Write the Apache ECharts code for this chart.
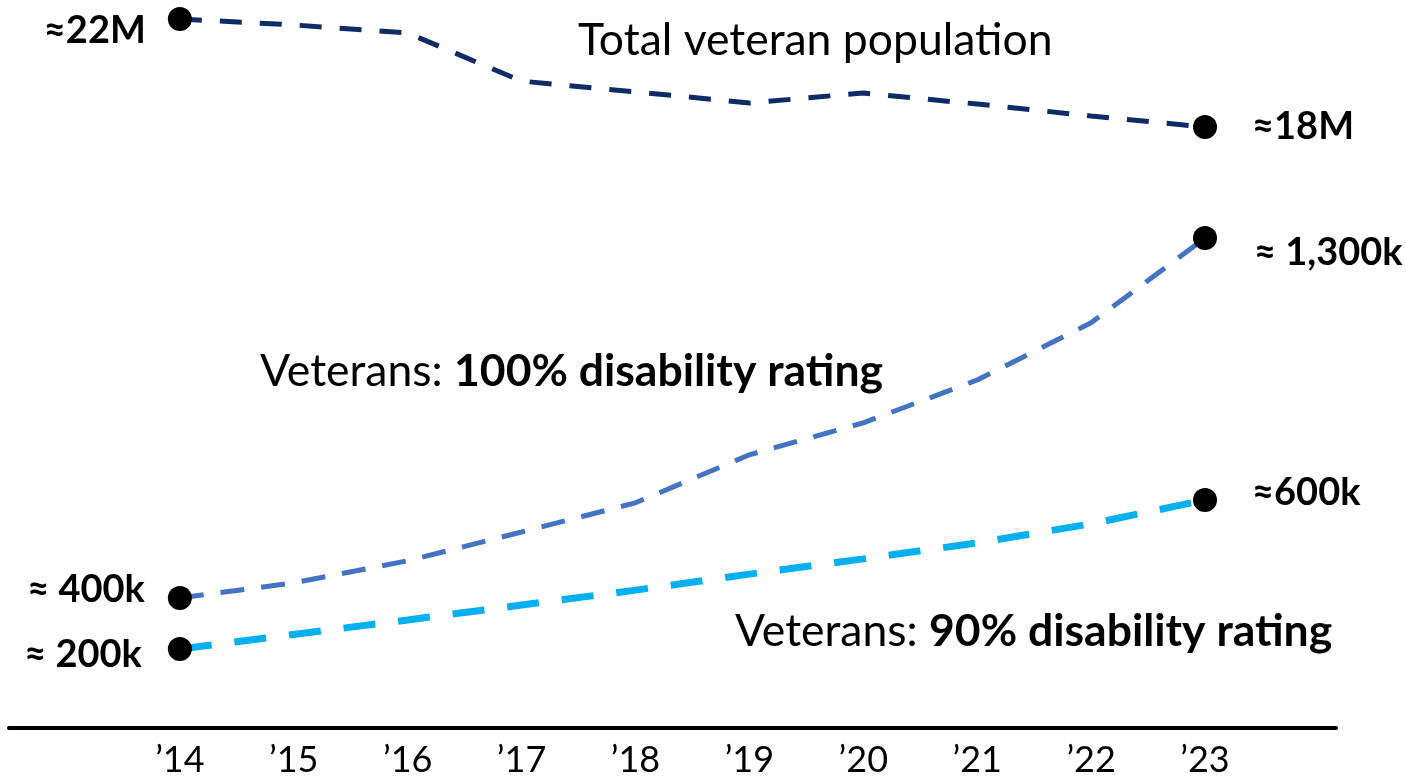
<!DOCTYPE html>
<html><head><meta charset="utf-8">
<script src="https://cdn.jsdelivr.net/npm/echarts@6/dist/echarts.min.js"></script>
<style>html,body{margin:0;padding:0;background:#fff}#c{width:1406px;height:779px}</style>
</head><body><div id="c"></div>
<script>
// ---- data ----
const years = [2014, 2015, 2016, 2017, 2018, 2019, 2020, 2021, 2022, 2023];
const totalPopulationM = [22.00, 21.78, 21.48, 19.70, 19.30, 18.89, 19.26, 18.85, 18.41, 18.00];
const rating100k = [400, 438, 493, 565, 638, 758, 838, 945, 1088, 1300];
const rating90k  = [200, 239, 278, 318, 358, 401, 442, 485, 536, 600];
const totalEndLabels = ['≈22M', '≈18M'];
const r100EndLabels = ['≈ 400k', '≈ 1,300k'];
const r90EndLabels = ['≈ 200k', '≈600k'];
const titleTotal = 'Total veteran population';
const titleR100 = ['Veterans: ', '100% disability rating'];
const titleR90 = ['Veterans: ', '90% disability rating'];

const FONT = 'Lato, "Open Sans", sans-serif';

function buildData(vals, labels, leftLab, rightLab) {
  return vals.map((v, i) => {
    const item = { value: [years[i], v] };
    const first = i === 0, last = i === vals.length - 1;
    if (first || last) {
      const o = first ? leftLab : rightLab;
      item.symbol = 'circle';
      item.symbolSize = 24;
      item.itemStyle = { color: '#000' };
      item.label = {
        show: true,
        formatter: labels[first ? 0 : 1],
        position: first ? 'left' : 'right',
        distance: o.distance,
        offset: o.offset,
        fontFamily: FONT, fontWeight: 'bold', fontSize: 38, color: '#000'
      };
    } else {
      item.symbol = 'none';
    }
    return item;
  });
}

const chart = echarts.init(document.getElementById('c'), null, { renderer: 'canvas' });
chart.setOption({
  animation: false,
  backgroundColor: '#fff',
  grid: { left: 9, right: 70, top: 0, bottom: 51, outerBoundsMode: 'none' },
  xAxis: {
    type: 'value', min: 2012.5, max: 2024.15,
    axisLine: { show: true, onZero: false, lineStyle: { color: '#000', width: 4 } },
    axisTick: { show: false },
    splitLine: { show: false },
    axisLabel: {
      customValues: years,
      formatter: v => '\u2019' + String(v).slice(2),
      fontFamily: FONT, fontSize: 36, color: '#000', margin: 14
    }
  },
  yAxis: [
    { type: 'value', show: false, min: -4.259, max: 22.704, splitLine: { show: false } },
    { type: 'value', show: false, min: 75, max: 1895, splitLine: { show: false } },
    { type: 'value', show: false, min: -12.1, max: 1942.3, splitLine: { show: false } }
  ],
  series: [
    {
      name: titleTotal, type: 'line', yAxisIndex: 0, silent: true, showSymbol: true,
      lineStyle: { color: '#0F2B66', width: 5, type: [22, 18] },
      data: buildData(totalPopulationM, totalEndLabels,
        { distance: 22, offset: [0, 12] }, { distance: 35, offset: [0, 0] })
    },
    {
      name: titleR100[1], type: 'line', yAxisIndex: 1, silent: true, showSymbol: true,
      lineStyle: { color: '#4472C4', width: 5, type: [24, 17] },
      data: buildData(rating100k, r100EndLabels,
        { distance: 23, offset: [0, -8] }, { distance: 37, offset: [0, 15] })
    },
    {
      name: titleR90[1], type: 'line', yAxisIndex: 2, silent: true, showSymbol: true,
      lineStyle: { color: '#00B0F0', width: 7, type: [32, 23] },
      data: buildData(rating90k, r90EndLabels,
        { distance: 26, offset: [0, 6] }, { distance: 35, offset: [0, -7] })
    }
  ],
  graphic: [
    { type: 'text', x: 578, y: 41, silent: true,
      style: { text: titleTotal, font: '44.5px ' + FONT, fill: '#000', align: 'left', verticalAlign: 'middle' } },
    { type: 'text', x: 260, y: 372, silent: true,
      style: { text: '{r|' + titleR100[0] + '}{b|' + titleR100[1] + '}', align: 'left', verticalAlign: 'middle',
        rich: { r: { fontFamily: FONT, fontSize: 44.5, color: '#000' }, b: { fontFamily: FONT, fontSize: 44.5, fontWeight: 'bold', color: '#000' } } } },
    { type: 'text', x: 735, y: 632, silent: true,
      style: { text: '{r|' + titleR90[0] + '}{b|' + titleR90[1] + '}', align: 'left', verticalAlign: 'middle',
        rich: { r: { fontFamily: FONT, fontSize: 44.5, color: '#000' }, b: { fontFamily: FONT, fontSize: 44.5, fontWeight: 'bold', color: '#000' } } } }
  ]
});
</script>
</body></html>
